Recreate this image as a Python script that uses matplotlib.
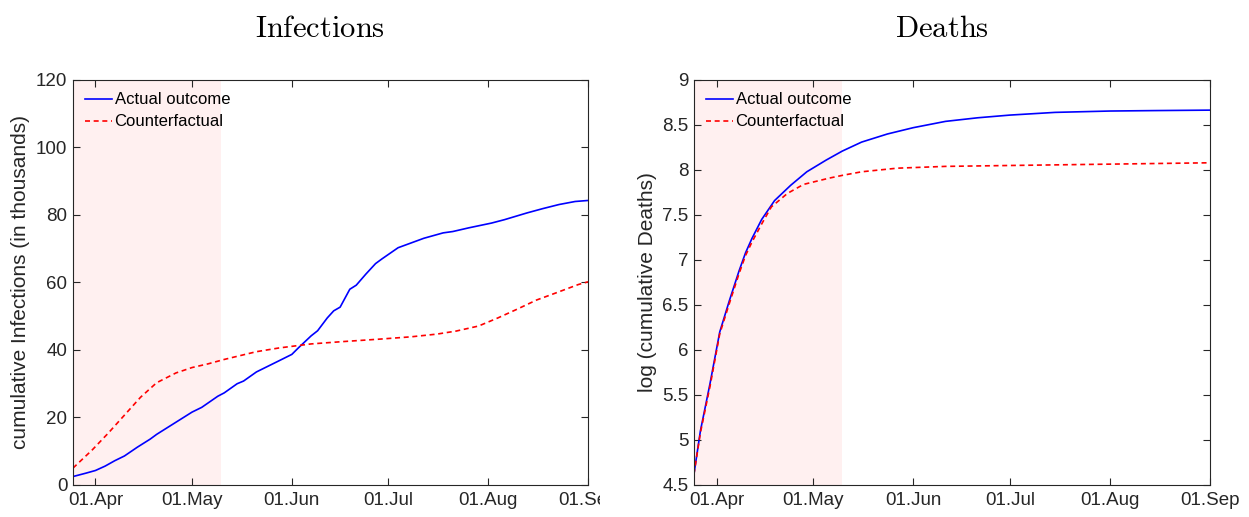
import pandas as pd
import matplotlib
matplotlib.use("Agg")
import matplotlib.pyplot as plt
import matplotlib.dates as mdates
from matplotlib.transforms import Bbox

# infections (in thousands)
inf_actual_dates = ["2020-03-25", "2020-03-29", "2020-04-01", "2020-04-04", "2020-04-07", "2020-04-10",
                    "2020-04-14", "2020-04-18", "2020-04-20", "2020-04-25", "2020-04-27", "2020-05-01",
                    "2020-05-04", "2020-05-09", "2020-05-11", "2020-05-15", "2020-05-17", "2020-05-21",
                    "2020-05-28", "2020-06-01", "2020-06-03", "2020-06-07", "2020-06-09", "2020-06-12",
                    "2020-06-14", "2020-06-16", "2020-06-19", "2020-06-21", "2020-06-24", "2020-06-27",
                    "2020-06-29", "2020-07-04", "2020-07-08", "2020-07-12", "2020-07-18", "2020-07-21",
                    "2020-07-26", "2020-08-02", "2020-08-06", "2020-08-13", "2020-08-18", "2020-08-23",
                    "2020-08-28", "2020-09-01"]
inf_actual = [2.5, 3.5, 4.3, 5.6, 7.2, 8.6,
              11.2, 13.6, 15.0, 18.0, 19.2, 21.6,
              23.0, 26.3, 27.3, 30.0, 30.8, 33.5,
              36.8, 38.7, 40.6, 44.2, 45.7, 49.5,
              51.6, 52.7, 58.0, 59.2, 62.5, 65.6,
              67.0, 70.3, 71.7, 73.1, 74.7, 75.1,
              76.2, 77.6, 78.6, 80.6, 81.9, 83.1,
              84.0, 84.3]

inf_cf_dates = ["2020-03-25", "2020-03-31", "2020-04-05", "2020-04-10", "2020-04-15", "2020-04-20",
                "2020-04-26", "2020-05-01", "2020-05-06", "2020-05-11", "2020-05-21", "2020-05-28",
                "2020-06-07", "2020-06-17", "2020-06-28", "2020-07-08", "2020-07-16", "2020-07-22",
                "2020-07-29", "2020-08-04", "2020-08-10", "2020-08-16", "2020-08-22", "2020-08-29",
                "2020-09-01"]
inf_cf = [5.0, 10.4, 15.4, 20.7, 26.0, 30.3,
          33.2, 34.8, 35.9, 37.2, 39.5, 40.6,
          41.8, 42.5, 43.2, 43.9, 44.7, 45.6,
          47.1, 49.5, 52.1, 54.8, 56.9, 59.4,
          60.2]

# log of cumulative deaths
dth_actual_dates = ["2020-03-25", "2020-03-27", "2020-03-30", "2020-04-02", "2020-04-05", "2020-04-08",
                    "2020-04-10", "2020-04-12", "2020-04-15", "2020-04-19", "2020-04-24", "2020-04-29",
                    "2020-05-05", "2020-05-10", "2020-05-16", "2020-05-24", "2020-06-01", "2020-06-11",
                    "2020-06-21", "2020-07-01", "2020-07-15", "2020-08-01", "2020-08-15", "2020-09-01"]
dth_actual = [4.62, 5.10, 5.63, 6.20, 6.55, 6.88,
              7.08, 7.24, 7.45, 7.66, 7.83, 7.98,
              8.11, 8.21, 8.31, 8.40, 8.47, 8.54,
              8.58, 8.61, 8.64, 8.655, 8.66, 8.665]

dth_cf_dates = ["2020-03-25", "2020-03-27", "2020-03-30", "2020-04-02", "2020-04-05", "2020-04-08",
                "2020-04-10", "2020-04-12", "2020-04-15", "2020-04-18", "2020-04-23", "2020-04-28",
                "2020-05-06", "2020-05-10", "2020-05-16", "2020-05-27", "2020-06-11", "2020-07-01",
                "2020-08-01", "2020-09-01"]
dth_cf = [4.62, 5.08, 5.60, 6.18, 6.52, 6.85,
          7.05, 7.20, 7.40, 7.59, 7.74, 7.84,
          7.91, 7.94, 7.98, 8.02, 8.04, 8.05,
          8.065, 8.08]

month_ticks = ["2020-04-01", "2020-05-01", "2020-06-01", "2020-07-01", "2020-08-01", "2020-09-01"]
x_start, x_end = "2020-03-25", "2020-09-01"
shade_end = "2020-05-10"

plt.rcParams['font.family'] = ['Liberation Sans', 'DejaVu Sans']
plt.rcParams['mathtext.fontset'] = 'cm'

INK = "#262626"
SHADE = "#fff0f0"

fig = plt.figure(figsize=(12.49, 5.17), dpi=100)
ax1 = fig.add_axes([0.0584, 0.0619, 0.4124, 0.7834])
ax2 = fig.add_axes([0.5556, 0.0619, 0.4131, 0.7834])


def style_axis(ax, title, ylabel):
    ax.axvspan(pd.Timestamp(x_start), pd.Timestamp(shade_end), color=SHADE, lw=0, zorder=0)
    ax.set_xlim(pd.Timestamp(x_start), pd.Timestamp(x_end))
    ax.set_xticks(pd.to_datetime(month_ticks))
    ax.xaxis.set_major_formatter(mdates.DateFormatter("%d.%b"))
    ax.tick_params(direction="in", top=True, right=True, length=5, width=0.8,
                   colors=INK, labelsize=13.5, pad=4)
    ax.tick_params(axis="x", pad=5)
    for sp in ax.spines.values():
        sp.set_color(INK)
        sp.set_linewidth(0.8)
    ax.set_ylabel(ylabel, fontsize=15, color=INK, labelpad=4)
    ax.set_title(r"$\mathrm{%s}$" % title, fontsize=22, pad=31, x=0.48)
    ax.legend(loc="upper left", frameon=False, fontsize=12, handlelength=1.6,
              handletextpad=0.15, borderaxespad=0.35, labelspacing=0.42)


ax1.plot(pd.to_datetime(inf_actual_dates), inf_actual, color="blue", lw=1.2, label="Actual outcome")
ax1.plot(pd.to_datetime(inf_cf_dates), inf_cf, color="red", lw=1.2, ls=(0, (3, 2.2)), label="Counterfactual")
ax1.set_ylim(0, 120)
ax1.set_yticks(range(0, 121, 20))
style_axis(ax1, "Infections", "cumulative Infections (in thousands)")

ax2.plot(pd.to_datetime(dth_actual_dates), dth_actual, color="blue", lw=1.2, label="Actual outcome")
ax2.plot(pd.to_datetime(dth_cf_dates), dth_cf, color="red", lw=1.2, ls=(0, (3, 2.2)), label="Counterfactual")
ax2.set_ylim(4.5, 9)
ax2.set_yticks([4.5, 5, 5.5, 6, 6.5, 7, 7.5, 8, 8.5, 9])
ax2.set_yticklabels(["4.5", "5", "5.5", "6", "6.5", "7", "7.5", "8", "8.5", "9"])
style_axis(ax2, "Deaths", "log (cumulative Deaths)")

# the left panel's last date label is cut off in the original export
last = ax1.get_xticklabels()[-1]
last.set_clip_on(True)
last.set_clip_box(Bbox.from_extents(0, 0, 600, 517))

fig.savefig("out.png", dpi=100)
